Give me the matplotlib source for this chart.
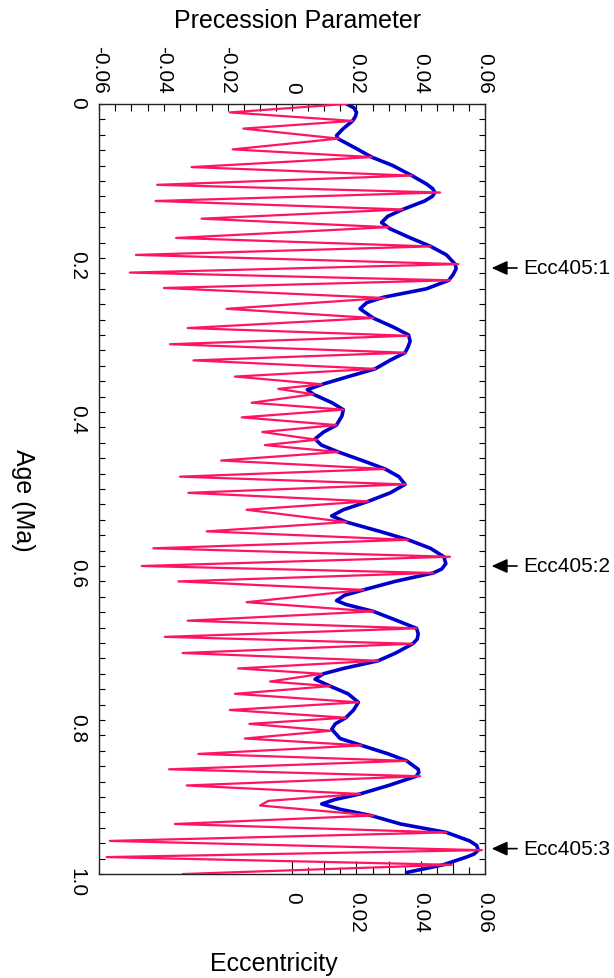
import matplotlib
matplotlib.use('Agg')
import matplotlib.pyplot as plt
import matplotlib.transforms as mtransforms
from matplotlib.ticker import FixedLocator, MultipleLocator

plt.rcParams['font.family'] = ['Liberation Sans', 'DejaVu Sans']

# Eccentricity (Ma, valor)
ecc_age = [0.000, 0.005, 0.011, 0.016, 0.022, 0.032, 0.041, 0.045, 0.058, 0.069, 0.080, 0.093,
           0.104, 0.110, 0.115, 0.120, 0.126, 0.137, 0.146, 0.154, 0.162, 0.174, 0.185, 0.196,
           0.208, 0.214, 0.222, 0.229, 0.240, 0.251, 0.258, 0.266, 0.278, 0.290,
           0.300, 0.308, 0.316, 0.323, 0.333, 0.344, 0.354, 0.364, 0.371, 0.377,
           0.388, 0.397, 0.405, 0.417, 0.426, 0.435, 0.443, 0.452, 0.463, 0.474,
           0.484, 0.494, 0.505, 0.516, 0.527, 0.535, 0.543, 0.555, 0.566, 0.577,
           0.588, 0.597, 0.604, 0.609, 0.620, 0.631, 0.638, 0.645, 0.650, 0.659, 0.671,
           0.681, 0.688, 0.695, 0.701, 0.713, 0.723, 0.733, 0.740, 0.747, 0.756, 0.766,
           0.777, 0.787, 0.797, 0.805, 0.812, 0.824, 0.833, 0.844, 0.853, 0.864,
           0.868, 0.873, 0.885, 0.896, 0.903, 0.909, 0.916, 0.924, 0.935, 0.946, 0.957,
           0.963, 0.969, 0.974, 0.978, 0.988, 0.998]
ecc_val = [0.0169, 0.0192, 0.0200, 0.0197, 0.0188, 0.0159, 0.0138, 0.0142, 0.0200, 0.0247, 0.0313, 0.0372,
           0.0418, 0.0437, 0.0444, 0.0436, 0.0412, 0.0344, 0.0297, 0.0278, 0.0304, 0.0368, 0.0431, 0.0480,
           0.0507, 0.0510, 0.0500, 0.0487, 0.0418, 0.0284, 0.0232, 0.0211, 0.0252, 0.0316,
           0.0362, 0.0367, 0.0360, 0.0351, 0.0304, 0.0258, 0.0175, 0.0094, 0.0047, 0.0066,
           0.0124, 0.0159, 0.0155, 0.0138, 0.0098, 0.0071, 0.0091, 0.0144, 0.0218, 0.0289,
           0.0332, 0.0351, 0.0305, 0.0237, 0.0159, 0.0123, 0.0169, 0.0272, 0.0361, 0.0430,
           0.0472, 0.0478, 0.0465, 0.0439, 0.0320, 0.0222, 0.0163, 0.0138, 0.0168, 0.0253, 0.0327,
           0.0387, 0.0392, 0.0389, 0.0375, 0.0322, 0.0268, 0.0160, 0.0097, 0.0071, 0.0118, 0.0174,
           0.0206, 0.0191, 0.0167, 0.0134, 0.0123, 0.0149, 0.0216, 0.0299, 0.0356, 0.0392,
           0.0394, 0.0386, 0.0300, 0.0211, 0.0135, 0.0092, 0.0150, 0.0245, 0.0337, 0.0480, 0.0552,
           0.0574, 0.0579, 0.0566, 0.0542, 0.0470, 0.0356]

# Parâmetro de precessão (extremos)
prec_age = [0.000, 0.011, 0.022, 0.032, 0.045, 0.059, 0.069, 0.082, 0.093, 0.105,
            0.115, 0.126, 0.137, 0.149, 0.160, 0.174, 0.185, 0.196, 0.208, 0.219,
            0.229, 0.239, 0.252, 0.266, 0.278, 0.291, 0.301, 0.312, 0.323, 0.333,
            0.344, 0.354, 0.364, 0.370, 0.377, 0.388, 0.397, 0.407, 0.417, 0.426,
            0.436, 0.443, 0.452, 0.463, 0.474, 0.484, 0.494, 0.505, 0.516, 0.527,
            0.543, 0.555, 0.566, 0.577, 0.588, 0.600, 0.609, 0.620, 0.631, 0.647,
            0.659, 0.671, 0.681, 0.692, 0.701, 0.713, 0.723, 0.733, 0.740, 0.750,
            0.756, 0.766, 0.777, 0.787, 0.797, 0.805, 0.814, 0.824, 0.833, 0.844,
            0.853, 0.864, 0.873, 0.885, 0.896, 0.905, 0.911, 0.924, 0.935, 0.946,
            0.957, 0.969, 0.978, 0.988, 1.000]
prec_val = [0.0169, -0.0194, 0.0188, -0.0152, 0.0144, -0.0185, 0.0247, -0.0313, 0.0372, -0.0420,
            0.0460, -0.0425, 0.0344, -0.0282, 0.0299, -0.0361, 0.0431, -0.0486, 0.0517, -0.0505,
            0.0491, -0.0399, 0.0289, -0.0204, 0.0252, -0.0325, 0.0360, -0.0380, 0.0351, -0.0307,
            0.0258, -0.0178, 0.0092, -0.0043, 0.0066, -0.0126, 0.0159, -0.0157, 0.0138, -0.0093,
            0.0076, -0.0085, 0.0144, -0.0221, 0.0289, -0.0349, 0.0351, -0.0323, 0.0237, -0.0142,
            0.0169, -0.0266, 0.0361, -0.0432, 0.0491, -0.0468, 0.0439, -0.0354, 0.0222, -0.0142,
            0.0253, -0.0325, 0.0387, -0.0396, 0.0375, -0.0341, 0.0268, -0.0168, 0.0092, -0.0069,
            0.0118, -0.0178, 0.0206, -0.0194, 0.0167, -0.0133, 0.0120, -0.0147, 0.0216, -0.0292,
            0.0356, -0.0383, 0.0398, -0.0328, 0.0211, -0.0074, -0.0100, 0.0253, -0.0365, 0.0480,
            -0.0567, 0.0590, -0.0577, 0.0496, -0.0340]

# Marcadores dos máximos de 405 ka
marcas = ['Ecc405:1', 'Ecc405:2', 'Ecc405:3']
marcas_age = [0.213, 0.600, 0.967]

top_ticks = [-0.06, -0.04, -0.02, 0, 0.02, 0.04, 0.06]
top_labels = ['-0.06', '-0.04', '-0.02', '0', '0.02', '0.04', '0.06']
ecc_ticks = [0, 0.01, 0.02, 0.03, 0.04, 0.05, 0.06]
ecc_labels = ['0', '', '0.02', '', '0.04', '', '0.06']
age_ticks = [0, 0.2, 0.4, 0.6, 0.8, 1.0]
age_labels = ['0', '0.2', '0.4', '0.6', '0.8', '1.0']

fig = plt.figure(figsize=(6.14, 9.79), dpi=100)
ax = fig.add_axes([0.1617, 0.1062, 0.6283, 0.7866])

ax.plot(ecc_val, ecc_age, color='#0000CC', lw=2.6, zorder=2,
        solid_joinstyle='round', solid_capstyle='round')
ax.plot(prec_val, prec_age, color='#FF1464', lw=1.6, zorder=3,
        solid_joinstyle='round')

ax.set_xlim(-0.06, 0.06)
ax.set_ylim(1.0, 0)

# eixo superior: precessão
ax.xaxis.set_ticks_position('top')
ax.set_xticks(top_ticks)
ax.set_xticklabels(top_labels, rotation=-90)
ax.xaxis.set_minor_locator(MultipleLocator(0.005))
ax.tick_params(axis='x', which='both', direction='in', length=5, width=0.8,
               labelsize=15, pad=8, top=True, bottom=False)

# eixo inferior: excentricidade
sec = ax.secondary_xaxis('bottom')
sec.xaxis.set_major_locator(FixedLocator(ecc_ticks))
sec.set_xticklabels(ecc_labels, rotation=-90)
sec.xaxis.set_minor_locator(FixedLocator([0.005, 0.015, 0.025, 0.035, 0.045, 0.055]))
sec.tick_params(axis='x', which='major', direction='in', length=9.5, width=0.8,
                labelsize=15, pad=12)
sec.tick_params(axis='x', which='minor', direction='in', length=5, width=0.8)
sec.spines['bottom'].set_visible(False)

# eixo da idade
ax.set_yticks(age_ticks)
ax.set_yticklabels(age_labels, rotation=-90)
ax.yaxis.set_minor_locator(MultipleLocator(0.02))
ax.tick_params(axis='y', which='both', direction='in', length=4.5, width=0.8,
               labelsize=15, pad=9, left=True, right=True)

for s in ax.spines.values():
    s.set_linewidth(1.0)
    s.set_color('#222222')

# setas
trans = mtransforms.blended_transform_factory(ax.transAxes, ax.transData)
for nome, idade in zip(marcas, marcas_age):
    ax.annotate('', xy=(1.017, idade), xytext=(1.083, idade),
                xycoords=trans, textcoords=trans, annotation_clip=False,
                arrowprops=dict(arrowstyle='-|>,head_length=9.5,head_width=4.3',
                                mutation_scale=1, color='black', lw=1.2,
                                shrinkA=0, shrinkB=0))
    ax.text(1.0985, idade, nome, transform=trans, ha='left', va='center',
            fontsize=15, clip_on=False)

fig.text(298 / 614, 1 - 28 / 979, 'Precession Parameter', ha='center',
         va='baseline', fontsize=18)
fig.text(274 / 614, 1 - 971.5 / 979, 'Eccentricity', ha='center',
         va='baseline', fontsize=18)
fig.text(23 / 614, 1 - 500 / 979, 'Age (Ma)', ha='center', va='center',
         rotation=-90, fontsize=18)

fig.savefig('out.png', dpi=100)
